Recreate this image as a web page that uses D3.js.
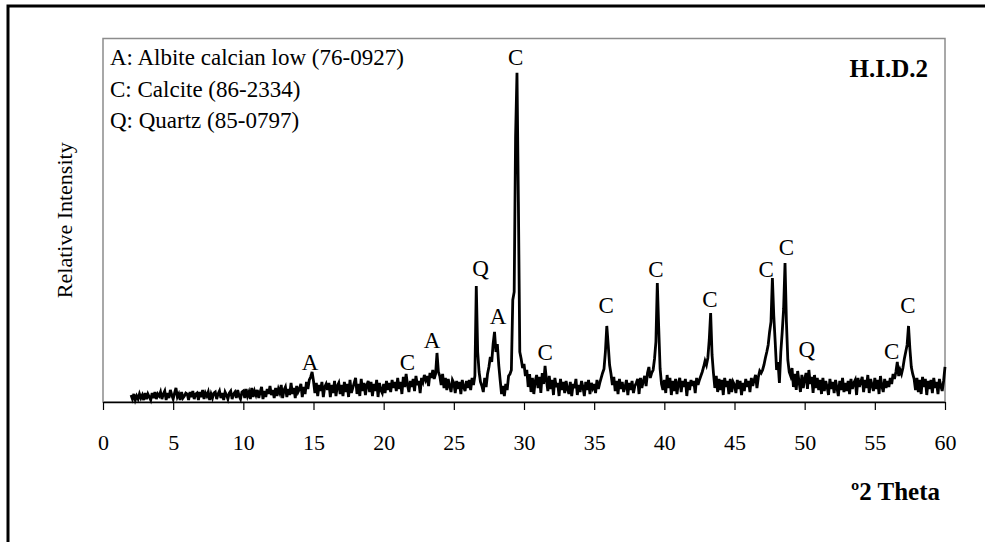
<!DOCTYPE html>
<html>
<head>
<meta charset="utf-8">
<script src="https://cdn.jsdelivr.net/npm/d3@7"></script>
<style>
  body { margin: 0; background: #fff; }
  svg text { font-family: "Liberation Serif", "Times New Roman", serif; fill: #000; }
</style>
</head>
<body>
<div id="wrapper"></div>
<script>
// scan grid, degrees 2-theta
const startAngle = 2
const stepSize = 0.1

// intensity counts, one per step from 2.0 to 60.0
const counts = [
  21,9,24,6,18,9,24,12,21,6,
  27,9,24,15,6,27,12,30,9,24,
  18,30,9,24,33,6,27,12,36,21,
  9,27,42,15,24,6,30,12,18,27,
  24,6,30,15,33,9,24,27,6,30,
  15,36,9,27,18,30,6,24,12,27,
  30,9,24,33,12,27,6,30,21,9,
  27,33,9,24,30,12,36,18,9,30,
  33,12,39,18,30,9,42,15,33,21,
  36,12,30,45,9,33,15,39,24,48,
  21,36,12,42,18,39,27,51,12,36,
  45,15,39,21,57,24,42,12,48,30,
  39,54,15,45,24,60,39,66,75,90,
  63,27,57,18,51,33,60,15,45,54,
  36,57,15,51,27,63,18,48,57,24,
  51,18,60,30,54,15,66,27,42,57,
  72,24,54,18,69,33,57,21,51,63,
  30,60,18,54,33,66,15,57,36,27,
  54,27,63,36,57,30,66,42,60,33,
  72,39,60,24,75,45,84,51,30,63,
  45,69,33,78,51,63,27,72,60,81,
  66,78,48,87,72,96,69,84,147,90,
  78,51,84,42,72,36,69,48,30,66,
  57,27,63,39,60,24,66,45,33,63,
  42,66,36,72,51,78,348,150,90,60,
  48,30,72,45,84,105,135,120,174,210,
  150,174,111,66,24,48,18,54,36,78,
  84,96,306,330,795,987,600,150,129,102,
  114,78,96,45,84,30,72,24,63,81,
  42,75,27,87,54,108,66,33,78,39,
  66,21,72,45,57,18,69,36,60,27,
  63,39,24,60,18,54,42,69,21,51,
  30,63,45,18,60,36,66,24,57,42,
  54,27,66,39,57,72,87,99,150,228,
  171,111,84,51,75,33,63,24,69,39,
  60,30,45,66,21,57,36,63,27,48,
  57,69,24,72,42,63,78,48,87,105,
  72,87,96,129,180,357,222,99,54,36,
  66,27,81,42,72,21,63,33,69,24,
  57,72,30,63,45,69,18,60,36,66,
  48,63,27,72,51,66,78,90,105,123,
  111,132,186,267,141,87,42,78,30,69,
  36,66,21,72,45,63,24,69,30,60,
  51,27,66,39,63,21,57,33,69,45,
  63,30,72,48,66,81,42,75,93,87,
  96,111,132,150,171,210,240,372,258,180,
  96,120,57,150,210,279,417,240,126,90,
  78,102,45,84,36,93,60,30,81,42,
  69,87,39,96,54,75,27,81,42,72,
  36,66,24,72,33,63,45,21,69,39,
  60,27,66,42,18,63,36,72,30,57,
  33,63,24,69,39,57,66,21,72,45,
  60,75,30,66,42,81,27,69,51,33,
  72,39,66,24,78,48,30,69,42,63,
  45,72,54,84,69,90,120,78,96,84,
  102,129,150,171,228,159,105,84,69,36,
  72,30,66,24,75,45,69,21,63,39,
  66,27,72,42,60,24,69,48,33,63,
  105,
]

const xTicks = [0, 5, 10, 15, 20, 25, 30, 35, 40, 45, 50, 55, 60]
const countMax = 1090

// phase identification
const legendLines = [
  "A: Albite calcian low (76-0927)",
  "C: Calcite (86-2334)",
  "Q: Quartz (85-0797)",
]
const peakLetters = ["A", "C", "A", "Q", "A", "C", "C", "C", "C", "C", "C", "C", "Q", "C", "C"]
const peakAngles = [14.75, 21.7, 23.45, 26.9, 28.15, 29.4, 31.5, 35.85, 39.4, 43.25, 47.25, 48.7, 50.15, 56.2, 57.35]
const peakLabelCounts = [96, 96, 162, 378, 234, 1011, 126, 267, 375, 285, 375, 441, 135, 129, 267]

const sampleName = "H.I.D.2"
const xTitle = "º2 Theta"
const yTitle = "Relative Intensity"

function drawPattern() {
  const scan = counts.map((c, i) => ({ angle: startAngle + i * stepSize, count: c }))
  const xAccessor = d => d.angle
  const yAccessor = d => d.count

  const dimensions = {
    width: 985,
    height: 542,
    margin: { top: 38.5, right: 40, bottom: 140, left: 103 },
  }
  dimensions.boundedWidth = dimensions.width - dimensions.margin.left - dimensions.margin.right
  dimensions.boundedHeight = dimensions.height - dimensions.margin.top - dimensions.margin.bottom

  const wrapper = d3.select("#wrapper")
    .append("svg")
      .attr("width", dimensions.width)
      .attr("height", dimensions.height)

  // outer frame (only top and left edges show)
  wrapper.append("path")
      .attr("d", `M8,${dimensions.height + 5} V6 H${dimensions.width + 5}`)
      .attr("fill", "none")
      .attr("stroke", "#000")
      .attr("stroke-width", 3)

  const bounds = wrapper.append("g")
      .attr("transform", `translate(${dimensions.margin.left}, ${dimensions.margin.top})`)

  const xScale = d3.scaleLinear()
    .domain([0, 60])
    .range([0, dimensions.boundedWidth])

  const yScale = d3.scaleLinear()
    .domain([0, countMax])
    .range([dimensions.boundedHeight, 0])

  // plot area border
  bounds.append("rect")
      .attr("width", dimensions.boundedWidth)
      .attr("height", dimensions.boundedHeight)
      .attr("fill", "none")
      .attr("stroke", "#8c8c8c")
      .attr("stroke-width", 1.5)

  const lineGenerator = d3.line()
    .x(d => xScale(xAccessor(d)))
    .y(d => yScale(yAccessor(d)))

  bounds.append("path")
      .attr("d", lineGenerator(scan))
      .attr("fill", "none")
      .attr("stroke", "#000")
      .attr("stroke-width", 2.8)
      .attr("stroke-linejoin", "miter")

  // x axis
  const xAxisGenerator = d3.axisBottom(xScale)
    .tickValues(xTicks)
    .tickSize(8)
    .tickSizeOuter(0)

  const xAxis = bounds.append("g")
      .attr("transform", `translate(0, ${dimensions.boundedHeight})`)
      .call(xAxisGenerator)
  xAxis.select(".domain").attr("stroke", "#000").attr("stroke-width", 1.5)
  xAxis.selectAll(".tick line").attr("stroke", "#000").attr("stroke-width", 1.2)
  xAxis.selectAll(".tick text")
      .attr("y", 48)
      .attr("dy", null)
      .attr("font-family", "Liberation Serif")
      .attr("font-size", 22)
      .attr("fill", "#000")

  // peak letters
  bounds.selectAll(".peak-label")
      .data(peakLetters)
    .enter().append("text")
      .attr("class", "peak-label")
      .attr("x", (d, i) => xScale(peakAngles[i]))
      .attr("y", (d, i) => yScale(peakLabelCounts[i]))
      .attr("text-anchor", "middle")
      .attr("font-size", 23)
      .text(d => d)

  // legend
  bounds.selectAll(".legend-line")
      .data(legendLines)
    .enter().append("text")
      .attr("class", "legend-line")
      .attr("x", 7)
      .attr("y", (d, i) => 26.5 + i * 31.5)
      .attr("font-size", 23)
      .text(d => d)

  bounds.append("text")
      .attr("x", dimensions.boundedWidth - 17)
      .attr("y", 38.5)
      .attr("text-anchor", "end")
      .attr("font-size", 25)
      .attr("font-weight", "bold")
      .text(sampleName)

  // axis titles
  wrapper.append("text")
      .attr("x", 940)
      .attr("y", 500)
      .attr("text-anchor", "end")
      .attr("font-size", 25)
      .attr("font-weight", "bold")
      .text(xTitle)

  wrapper.append("text")
      .attr("transform", `translate(72, ${dimensions.margin.top + dimensions.boundedHeight / 2}) rotate(-90)`)
      .attr("text-anchor", "middle")
      .attr("font-size", 22)
      .text(yTitle)
}
drawPattern()
</script>
</body>
</html>
